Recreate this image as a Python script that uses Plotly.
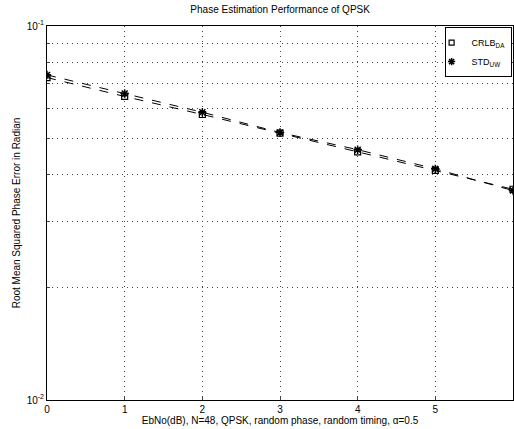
import plotly.graph_objects as go

ebno = [0, 1, 2, 3, 4, 5, 6]
crlb_da = [0.0728, 0.0648, 0.0580, 0.0517, 0.0461, 0.0411, 0.0366]
std_uw = [0.0740, 0.0660, 0.0588, 0.0519, 0.0467, 0.0415, 0.0363]
y_tickvals = [0.01, 0.1]
y_ticktext = ["10<sup>-2</sup>", "10<sup>-1</sup>"]
y_minor = [0.02, 0.03, 0.04, 0.05, 0.06, 0.07, 0.08, 0.09]
x_tickvals = [0, 1, 2, 3, 4, 5, 6]

FONT = "Liberation Sans, Arial, sans-serif"
GRID_DASH = "1px,4px"
GRID_COLOR = "#444444"

fig = go.Figure()
fig.add_trace(go.Scatter(x=ebno, y=crlb_da, mode="lines+markers", showlegend=False,
                         line=dict(color="black", width=1, dash="dash"),
                         marker=dict(symbol="square-open", size=6, color="black", line=dict(width=1.2))))
fig.add_trace(go.Scatter(x=ebno, y=std_uw, mode="lines+markers", showlegend=False,
                         line=dict(color="black", width=1, dash="dash"),
                         marker=dict(symbol="asterisk-open", size=7, color="black", line=dict(width=1.5, color="black"))))
# legend entries
fig.add_trace(go.Scatter(x=[None], y=[None], mode="markers", name="CRLB<sub>DA</sub>",
                         marker=dict(symbol="square-open", size=5, color="black", line=dict(width=1.2))))
fig.add_trace(go.Scatter(x=[None], y=[None], mode="markers", name="STD<sub>UW</sub>",
                         marker=dict(symbol="asterisk-open", size=6, color="black", line=dict(width=1.5, color="black"))))

fig.update_layout(
    width=514, height=429,
    margin=dict(l=47, r=1, t=26, b=29),
    paper_bgcolor="white", plot_bgcolor="white",
    font=dict(family=FONT, size=10, color="black"),
    title=dict(text="Phase Estimation Performance of QPSK", x=0.545, xanchor="center",
               y=0.977, yanchor="middle", font=dict(size=10)),
    legend=dict(x=0.997, y=0.997, xanchor="right", yanchor="top", bordercolor="black", borderwidth=1,
                bgcolor="white", font=dict(size=9), itemwidth=30, tracegroupgap=0,
                indentation=-14),
)
fig.update_xaxes(range=[0, 6], tickvals=x_tickvals, showgrid=True, gridcolor=GRID_COLOR, griddash=GRID_DASH,
                 gridwidth=1, showline=True, linecolor="black", linewidth=1, mirror=True,
                 ticks="inside", ticklen=4, zeroline=False,
                 title=dict(text="EbNo(dB), N=48, QPSK, random phase, random timing, α=0.5",
                            font=dict(size=10), standoff=2))
fig.update_yaxes(type="log", range=[-2, -1], tickvals=y_tickvals, ticktext=y_ticktext,
                 showgrid=False, showline=True, linecolor="black", linewidth=1, mirror=True,
                 ticks="inside", ticklen=4, zeroline=False,
                 minor=dict(tickvals=y_minor, showgrid=True, gridcolor=GRID_COLOR, griddash=GRID_DASH,
                            gridwidth=1, ticks="inside", ticklen=3),
                 title=dict(text="Root Mean Squared Phase Error in Radian", font=dict(size=10), standoff=4))

fig.write_html("out.html")
